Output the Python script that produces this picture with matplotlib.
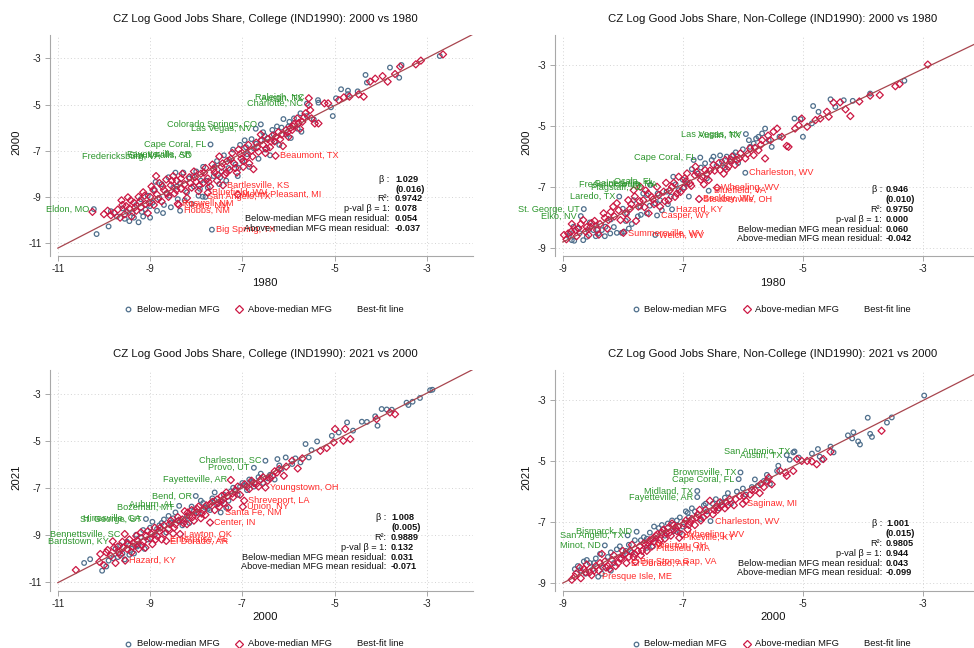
import matplotlib
matplotlib.use("Agg")
import matplotlib.pyplot as plt
from matplotlib.lines import Line2D
import numpy as np

plt.rcParams['font.family'] = ['Liberation Sans', 'DejaVu Sans']

# ---------------- DATA ----------------
titles = ["CZ Log Good Jobs Share, College (IND1990): 2000 vs 1980",
          "CZ Log Good Jobs Share, Non-College (IND1990): 2000 vs 1980",
          "CZ Log Good Jobs Share, College (IND1990): 2021 vs 2000",
          "CZ Log Good Jobs Share, Non-College (IND1990): 2021 vs 2000"]
xlabels = ["1980", "1980", "2000", "2000"]
ylabels = ["2000", "2000", "2021", "2021"]
ticks_college = [-11, -9, -7, -5, -3]
ticks_noncollege = [-9, -7, -5, -3]

beta = ["1.029", "0.946", "1.008", "1.001"]
beta_se = ["(0.016)", "(0.010)", "(0.005)", "(0.015)"]
r2 = ["0.9742", "0.9750", "0.9889", "0.9805"]
pval = ["0.078", "0.000", "0.132", "0.944"]
resid_below = ["0.054", "0.060", "0.031", "0.043"]
resid_above = ["-0.037", "-0.042", "-0.071", "-0.099"]
fit_slope = [1.029, 0.946, 1.008, 1.001]
fit_intercept = [0.10, -0.276, 0.05, 0.0]
fit_xstart = [-11, -9, -11, -9]

legend_labels = ["Below-median MFG", "Above-median MFG", "Best-fit line"]

p1_blue = [(-10.16,-10.61),(-9.90,-10.28),(-10.22,-9.53),(-9.85,-9.62),(-9.72,-9.85),(-9.6,-9.5),(-9.55,-9.95),
 (-9.45,-10.05),(-9.38,-9.7),(-9.3,-9.35),(-9.25,-10.1),(-9.2,-9.1),(-9.15,-9.85),(-9.1,-9.55),(-9.05,-8.95),
 (-9.0,-9.9),(-8.95,-9.25),(-8.9,-8.7),(-8.85,-9.6),(-8.8,-9.05),(-8.75,-8.45),(-8.7,-9.35),(-8.65,-8.85),
 (-8.6,-8.15),(-8.55,-9.45),(-8.5,-8.6),(-8.45,-7.95),(-8.4,-9.1),(-8.35,-8.4),(-8.35,-9.6),(-8.28,-7.95),
 (-8.2,-8.8),(-8.15,-8.2),(-8.1,-9.3),(-8.05,-8.55),(-8.0,-7.9),(-7.95,-8.95),(-7.9,-8.3),(-7.86,-8.99),
 (-7.85,-7.7),(-7.8,-9.0),(-7.75,-8.6),(-7.69,-6.73),(-7.66,-10.42),(-7.62,-8.1),(-7.55,-7.45),(-7.5,-8.45),
 (-7.45,-7.9),(-7.4,-7.2),(-7.35,-8.3),(-7.3,-7.75),(-7.2,-6.95),(-7.15,-7.6),(-7.1,-8.1),(-7.05,-6.75),
 (-7.0,-7.45),(-6.95,-6.55),(-6.9,-7.15),(-6.85,-7.7),(-6.8,-6.5),(-6.75,-6.9),(-6.71,-6.05),(-6.65,-7.35),
 (-6.6,-6.55),(-6.55,-6.2),(-6.5,-6.95),(-6.45,-6.45),(-6.4,-7.2),(-6.35,-6.1),(-6.3,-6.6),(-6.25,-5.95),
 (-6.2,-6.75),(-6.11,-5.63),(-6.05,-6.3),(-6.0,-5.95),(-5.95,-6.45),(-5.88,-5.60),(-5.8,-6.05),(-5.74,-5.38),
 (-5.72,-6.18),(-5.6,-5.5),(-5.6,-4.96),(-5.45,-5.65),(-5.35,-4.92),(-5.36,-4.81),(-5.08,-5.12),(-5.04,-5.50),
 (-4.97,-4.73),(-4.86,-4.34),(-4.71,-4.40),(-4.71,-4.55),(-4.50,-4.43),(-4.33,-3.72),(-4.30,-4.05),
 (-3.80,-3.40),(-3.60,-3.84),(-3.55,-3.29),(-2.72,-2.90),(-6.6,-5.86),
 (-9.5,-9.65),(-9.35,-9.9),(-9.18,-9.65),(-9.0,-9.4),(-8.88,-8.35),(-8.72,-9.7),(-8.58,-8.95),(-8.42,-8.55),
 (-8.25,-9.15),(-8.08,-8.1),(-7.92,-8.65),(-7.78,-8.3),(-7.6,-7.7),(-7.48,-8.15),(-7.28,-7.4),(-7.08,-7.75),
 (-6.92,-6.85),(-6.7,-6.7),(-6.52,-6.35),(-6.32,-6.3),(-6.15,-6.0),(-5.98,-5.75)]
p1_red = [(-10.25,-9.65),(-10.0,-9.75),(-9.92,-9.6),(-9.85,-9.8),(-9.78,-9.7),(-9.7,-9.55),(-9.65,-9.9),
 (-9.6,-9.35),(-9.55,-9.75),(-9.48,-9.02),(-9.45,-9.5),(-9.4,-9.85),(-9.35,-9.25),(-9.3,-9.6),(-9.25,-9.0),
 (-9.2,-9.45),(-9.15,-8.8),(-9.1,-9.3),(-9.05,-9.7),(-9.0,-9.0),(-8.97,-8.55),(-8.92,-9.35),(-8.87,-8.1),
 (-8.85,-8.9),(-8.8,-8.4),(-8.75,-9.2),(-8.7,-8.7),(-8.65,-8.25),(-8.6,-9.0),(-8.55,-8.5),(-8.5,-8.1),
 (-8.47,-8.85),(-8.42,-8.3),(-8.4,-9.3),(-8.38,-9.35),(-8.33,-8.65),(-8.3,-8.0),(-8.25,-8.45),(-8.2,-9.05),
 (-8.15,-8.15),(-8.1,-8.6),(-8.05,-7.9),(-8.0,-8.35),(-7.95,-8.75),(-7.9,-8.0),(-7.85,-8.4),(-7.8,-7.75),
 (-7.75,-8.2),(-7.75,-8.82),(-7.7,-8.55),(-7.65,-7.6),(-7.6,-7.95),(-7.55,-8.3),(-7.5,-7.25),(-7.45,-7.7),
 (-7.42,-8.50),(-7.38,-8.05),(-7.33,-7.45),(-7.28,-7.85),(-7.22,-7.1),(-7.18,-7.55),(-7.12,-7.95),
 (-7.1,-8.9),(-7.08,-6.95),(-7.02,-7.35),(-6.98,-7.7),(-6.95,-6.9),(-6.9,-7.25),(-6.85,-7.55),(-6.8,-7.0),
 (-6.76,-7.8),(-6.7,-6.65),(-6.65,-7.05),(-6.6,-6.3),(-6.55,-6.75),(-6.5,-7.1),(-6.45,-6.5),(-6.4,-6.85),
 (-6.35,-6.35),(-6.3,-6.6),(-6.28,-7.22),(-6.22,-6.2),(-6.18,-6.5),(-6.12,-6.8),(-6.05,-6.1),(-6.0,-6.4),
 (-5.95,-6.0),(-5.92,-6.10),(-5.88,-5.85),(-5.81,-5.60),(-5.75,-6.05),(-5.7,-5.75),(-5.63,-5.38),
 (-5.56,-4.73),(-5.56,-5.02),(-5.53,-5.24),(-5.5,-5.6),(-5.43,-5.82),(-5.35,-5.82),(-5.22,-4.95),
 (-5.14,-4.95),(-4.91,-4.81),(-4.80,-4.69),(-4.68,-4.66),(-4.48,-4.56),(-4.37,-4.66),(-4.23,-4.01),
 (-4.12,-3.88),(-3.96,-3.77),(-3.85,-4.01),(-3.69,-3.68),(-3.58,-3.36),(-3.24,-3.26),(-3.13,-3.10),
 (-2.65,-2.83),
 (-9.62,-9.15),(-9.52,-9.4),(-9.42,-9.15),(-9.33,-9.45),(-9.22,-9.2),(-9.12,-8.95),(-9.02,-9.25),(-8.93,-8.7),
 (-8.83,-9.1),(-8.73,-8.55),(-8.63,-8.85),(-8.53,-8.3),(-8.43,-8.7),(-8.33,-8.2),(-8.23,-8.75),(-8.13,-8.4),
 (-8.03,-8.15),(-7.93,-8.5),(-7.83,-7.95),(-7.73,-8.35),(-7.63,-7.8),(-7.53,-8.05),(-7.43,-7.55),(-7.35,-7.95),
 (-7.25,-7.35),(-7.15,-7.75),(-7.05,-7.15),(-6.97,-7.45),(-6.87,-6.75),(-6.78,-7.25),(-6.68,-6.85),
 (-6.58,-6.55),(-6.48,-6.9),(-6.38,-6.6),(-6.27,-6.4),(-6.15,-6.3),(-6.02,-6.2),(-5.9,-5.95),(-5.78,-5.8),
 (-5.66,-5.55)]

p2_blue = [(-8.88,-8.51),(-8.85,-8.73),(-8.81,-8.75),(-8.66,-8.73),(-8.6,-8.62),(-8.82,-8.29),(-8.7,-7.94),
 (-8.65,-7.71),(-8.49,-8.4),(-8.41,-8.51),(-8.35,-8.4),(-8.29,-8.29),(-8.21,-8.51),(-8.1,-8.49),(-8.06,-7.30),
 (-8.02,-8.49),(-7.98,-8.45),(-7.95,-8.1),(-7.93,-7.85),(-7.82,-7.42),(-7.71,-7.63),(-7.66,-7.2),(-7.6,-7.85),
 (-7.54,-6.92),(-7.46,-7.52),(-7.46,-8.56),(-7.43,-7.92),(-7.38,-7.42),(-7.27,-7.14),(-7.18,-7.72),
 (-7.16,-6.65),(-7.07,-7.09),(-6.93,-6.87),(-6.82,-6.1),(-6.71,-6.02),(-6.63,-6.21),(-6.57,-7.11),
 (-6.49,-5.99),(-6.44,-6.3),(-6.38,-5.95),(-6.27,-5.99),(-6.16,-5.94),(-6.08,-6.2),(-5.96,-6.52),
 (-5.95,-5.25),(-5.88,-5.67),(-5.82,-5.56),(-5.74,-5.34),(-5.68,-5.23),(-5.63,-5.07),(-5.57,-5.45),
 (-5.52,-5.67),(-5.39,-5.34),(-5.14,-4.74),(-5.04,-4.76),(-5.0,-5.34),(-4.85,-4.9),(-4.83,-4.33),
 (-4.74,-4.52),(-4.54,-4.11),(-4.46,-4.36),(-4.32,-4.14),(-4.17,-4.16),(-3.88,-3.92),(-3.31,-3.50),
 (-8.75,-8.35),(-8.55,-8.15),(-8.45,-8.6),(-8.2,-8.05),(-8.0,-7.7),(-7.85,-8.2),(-7.75,-7.95),(-7.6,-7.25),
 (-7.35,-7.75),(-7.2,-7.3),(-7.0,-6.75),(-6.9,-7.3),(-6.75,-6.55),(-6.6,-6.7),(-6.3,-6.35),(-6.0,-5.75),
 (-6.2,-6.15),
 (-8.9,-8.6),(-8.72,-8.5),(-8.58,-8.4),(-8.44,-8.25),(-8.3,-8.6),(-8.15,-8.3),(-7.9,-8.35),(-7.7,-7.9),
 (-7.55,-7.6),(-7.42,-7.2),(-7.25,-7.55),(-7.12,-6.9),(-6.98,-7.0),(-6.85,-6.4),(-6.7,-6.35),(-6.52,-6.1),
 (-6.35,-6.15),(-6.12,-5.85),(-5.9,-5.45),(-5.78,-5.4)]
p2_red = [(-8.98,-8.56),(-8.91,-8.51),(-8.79,-8.4),(-8.74,-8.34),(-8.66,-8.07),(-8.57,-8.56),(-8.52,-8.17),
 (-8.43,-8.4),(-8.32,-7.85),(-8.24,-8.07),(-8.16,-7.63),(-8.1,-7.52),(-8.04,-8.07),(-7.99,-8.49),(-7.96,-7.85),
 (-7.91,-7.42),(-7.82,-7.09),(-7.74,-7.63),(-7.71,-6.98),(-7.66,-7.42),(-7.57,-7.85),(-7.52,-7.31),
 (-7.43,-6.98),(-7.38,-7.63),(-7.32,-7.14),(-7.24,-7.42),(-7.18,-6.98),(-7.13,-7.31),(-7.07,-6.65),
 (-6.99,-7.03),(-6.93,-6.54),(-6.88,-6.87),(-6.79,-6.32),(-6.73,-7.38),(-6.68,-6.65),(-6.63,-6.43),
 (-6.57,-6.76),(-6.49,-6.26),(-6.43,-7.01),(-6.38,-6.43),(-6.29,-6.1),(-6.24,-6.32),(-6.18,-5.99),
 (-6.13,-6.26),(-6.04,-5.88),(-5.96,-6.05),(-5.88,-5.72),(-5.82,-5.94),(-5.74,-5.78),(-5.68,-5.45),
 (-5.63,-6.05),(-5.54,-5.45),(-5.49,-5.17),(-5.43,-5.07),(-5.35,-5.34),(-5.27,-5.64),(-5.24,-5.67),
 (-5.13,-5.07),(-5.07,-4.96),(-5.02,-4.74),(-4.93,-5.01),(-4.79,-4.79),(-4.71,-4.74),(-4.6,-4.52),
 (-4.57,-4.68),(-4.49,-4.22),(-4.38,-4.21),(-4.29,-4.44),(-4.21,-4.66),(-4.06,-4.18),(-3.88,-3.99),
 (-3.72,-3.97),(-3.46,-3.68),(-3.39,-3.61),(-2.92,-2.97),
 (-8.85,-8.2),(-8.6,-8.3),(-8.38,-8.2),(-8.2,-7.8),(-7.88,-7.7),(-7.78,-8.1),(-7.62,-7.1),(-7.48,-7.55),
 (-7.28,-6.85),(-7.1,-7.2),(-6.95,-6.8),(-6.8,-6.6),(-6.65,-6.9),(-6.55,-6.45),(-6.32,-6.55),(-6.1,-6.1),
 (-8.94,-8.7),(-8.86,-8.45),(-8.77,-8.6),(-8.7,-8.2),(-8.62,-8.45),(-8.54,-8.3),(-8.47,-8.1),(-8.4,-8.55),
 (-8.3,-8.0),(-8.26,-8.35),(-8.14,-7.95),(-8.07,-7.75),(-7.93,-8.05),(-7.86,-7.55),(-7.8,-7.3),(-7.72,-7.45),
 (-7.64,-7.65),(-7.58,-7.2),(-7.5,-7.4),(-7.4,-7.25),(-7.3,-7.45),(-7.22,-7.1),(-7.15,-6.85),(-7.04,-7.15),
 (-6.97,-6.7),(-6.86,-6.95),(-6.77,-6.5),(-6.7,-6.75),(-6.6,-6.55),(-6.47,-6.45),(-6.4,-6.2),(-6.27,-6.4),
 (-6.2,-6.1),(-6.06,-6.05),(-5.92,-5.9),(-5.8,-5.7),(-5.7,-5.6),(-5.58,-5.3)]

p3_blue = [(-10.43,-10.2),(-10.3,-10.04),(-10.04,-10.53),(-9.95,-10.35),(-9.8,-10.0),(-9.75,-9.6),(-9.6,-9.8),
 (-9.55,-10.05),(-9.5,-9.3),(-9.4,-9.6),(-9.3,-9.0),(-9.25,-9.45),(-9.15,-8.8),(-9.09,-8.33),(-9.05,-9.2),
 (-8.95,-8.45),(-8.9,-9.0),(-8.8,-8.6),(-8.7,-8.35),(-8.65,-8.9),(-8.55,-8.5),(-8.45,-8.05),(-8.37,-7.77),
 (-8.3,-8.6),(-8.2,-8.2),(-8.1,-7.8),(-8.01,-7.35),(-7.95,-8.1),(-7.85,-7.65),(-7.75,-7.9),(-7.65,-7.45),
 (-7.55,-7.7),(-7.47,-8.05),(-7.4,-7.3),(-7.3,-7.55),(-7.2,-7.0),(-7.1,-7.3),(-7.0,-6.8),(-6.9,-7.1),
 (-6.85,-6.65),(-6.75,-6.15),(-6.75,-6.95),(-6.65,-6.55),(-6.55,-6.8),(-6.5,-5.85),(-6.4,-6.45),(-6.3,-6.65),
 (-6.24,-5.78),(-6.15,-6.2),(-6.06,-5.71),(-5.92,-5.99),(-5.74,-5.92),(-5.63,-5.14),(-5.56,-5.71),
 (-5.38,-5.03),(-5.06,-4.79),(-4.91,-4.65),(-4.73,-4.22),(-4.6,-4.57),(-4.41,-4.19),(-4.3,-4.2),
 (-4.12,-3.96),(-4.07,-4.36),(-3.98,-3.65),(-3.87,-3.67),(-3.76,-3.68),(-3.44,-3.38),(-3.4,-3.48),
 (-3.31,-3.34),(-3.15,-3.18),(-2.93,-2.85),(-2.88,-2.83),
 (-9.65,-9.45),(-9.35,-9.8),(-9.2,-9.1),(-8.85,-8.75),(-8.6,-8.2),(-8.4,-8.4),(-8.15,-8.5),(-7.9,-7.55),
 (-7.7,-7.95),(-7.6,-7.2),(-7.35,-7.85),(-7.15,-7.1),(-6.95,-6.9),(-6.6,-6.4),
 (-9.9,-10.1),(-9.7,-9.95),(-9.45,-9.85),(-9.28,-9.5),(-9.12,-9.6),(-9.0,-8.7),(-8.75,-8.5),(-8.5,-8.3),
 (-8.25,-8.35),(-8.05,-8.0),(-7.8,-7.85),(-7.6,-7.55),(-7.45,-7.6),(-7.25,-7.15),(-7.05,-6.95),(-6.8,-6.75),
 (-6.45,-6.6),(-6.2,-6.05),(-5.85,-5.75),(-5.5,-5.4)]
p3_red = [(-10.61,-10.5),(-10.1,-10.15),(-10.08,-9.82),(-10.0,-10.3),(-9.92,-9.65),(-9.85,-9.9),(-9.81,-9.28),
 (-9.75,-10.2),(-9.7,-9.5),(-9.65,-9.85),(-9.6,-9.3),(-9.55,-8.97),(-9.54,-10.1),(-9.5,-9.6),(-9.45,-9.2),
 (-9.4,-9.75),(-9.35,-9.35),(-9.3,-9.05),(-9.25,-9.6),(-9.2,-8.9),(-9.15,-9.3),(-9.1,-9.55),(-9.05,-8.85),
 (-9.0,-9.15),(-8.95,-9.4),(-8.9,-8.7),(-8.85,-9.05),(-8.8,-8.85),(-8.75,-9.2),(-8.7,-8.6),(-8.65,-9.26),
 (-8.6,-8.75),(-8.55,-8.4),(-8.5,-8.95),(-8.45,-8.55),(-8.4,-8.25),(-8.35,-8.97),(-8.3,-8.35),(-8.25,-8.0),
 (-8.2,-8.55),(-8.15,-8.2),(-8.1,-7.95),(-8.05,-8.4),(-8.0,-8.05),(-7.95,-7.8),(-7.9,-8.3),(-7.85,-7.95),
 (-7.8,-8.15),(-7.7,-8.48),(-7.7,-7.7),(-7.6,-7.95),(-7.55,-7.5),(-7.5,-7.8),(-7.45,-7.35),(-7.4,-7.65),
 (-7.35,-7.2),(-7.3,-7.85),(-7.25,-6.67),(-7.2,-7.4),(-7.15,-7.1),(-7.05,-7.3),(-6.99,-7.81),(-6.96,-7.55),
 (-6.95,-6.85),(-6.85,-7.05),(-6.75,-6.8),(-6.65,-6.95),(-6.6,-6.65),(-6.5,-6.99),(-6.45,-6.7),(-6.35,-6.5),
 (-6.25,-6.35),(-6.1,-6.49),(-6.05,-6.1),(-5.92,-5.85),(-5.8,-6.18),(-5.7,-5.75),(-5.31,-5.43),
 (-5.17,-5.31),(-5.02,-5.07),(-4.99,-4.5),(-4.81,-5.0),(-4.77,-4.5),(-4.66,-4.93),(-4.09,-4.08),
 (-3.8,-3.8),(-3.69,-3.87),
 (-9.95,-9.75),(-9.78,-9.55),(-9.68,-9.75),(-9.58,-9.55),(-9.48,-9.4),(-9.38,-9.5),(-9.28,-9.25),(-9.18,-9.45),
 (-9.08,-9.05),(-8.98,-8.95),(-8.88,-9.2),(-8.78,-8.7),(-8.68,-8.95),(-8.58,-8.55),(-8.48,-8.7),(-8.38,-8.4),
 (-8.28,-8.5),(-8.18,-8.05),(-8.08,-8.25),(-7.98,-7.9),(-7.88,-8.1),(-7.78,-7.75),(-7.65,-7.6),(-7.52,-7.65),
 (-7.42,-7.5),(-7.32,-7.35),(-7.22,-7.25),(-7.1,-6.95),(-6.9,-6.95),(-6.8,-6.7),(-6.7,-6.85),(-6.55,-6.55),
 (-6.4,-6.6),(-6.3,-6.3),(-6.2,-6.2)]

p4_blue = [(-8.75,-8.45),(-8.7,-8.6),(-8.62,-8.7),(-8.55,-8.35),(-8.5,-8.55),(-8.45,-8.2),(-8.41,-8.8),
 (-8.38,-8.05),(-8.33,-8.5),(-8.3,-7.77),(-8.25,-8.15),(-8.15,-8.35),(-8.1,-7.9),(-8.0,-8.1),(-7.92,-7.44),
 (-7.9,-7.75),(-7.85,-8.0),(-7.77,-7.32),(-7.7,-7.6),(-7.6,-7.85),(-7.55,-7.35),(-7.45,-7.55),(-7.4,-7.2),
 (-7.3,-7.45),(-7.25,-7.05),(-7.15,-7.3),(-7.1,-6.95),(-7.0,-7.15),(-6.9,-6.85),(-6.85,-6.55),(-6.76,-5.98),
 (-6.76,-6.18),(-6.7,-6.9),(-6.6,-6.65),(-6.54,-6.97),(-6.5,-6.4),(-6.4,-6.55),(-6.3,-6.2),(-6.2,-6.4),
 (-6.1,-6.0),(-6.07,-5.59),(-6.04,-5.37),(-5.95,-6.1),(-5.85,-5.85),(-5.75,-5.8),(-5.65,-5.65),(-5.55,-5.75),
 (-5.43,-5.32),(-5.41,-5.15),(-5.27,-4.8),(-5.22,-4.95),(-5.16,-4.71),(-5.14,-4.68),(-5.07,-4.88),
 (-4.85,-4.75),(-4.75,-4.6),(-4.72,-4.85),(-4.68,-4.95),(-4.54,-4.52),(-4.49,-4.71),(-4.25,-4.15),
 (-4.18,-4.25),(-4.16,-4.05),(-4.08,-4.35),(-4.05,-4.45),(-3.92,-3.57),(-3.88,-4.1),(-3.85,-4.2),
 (-3.6,-3.73),(-3.52,-3.56),(-2.98,-2.84),
 (-8.6,-8.25),(-8.2,-8.6),(-7.95,-7.95),(-7.65,-7.5),(-7.5,-7.8),(-7.35,-7.1),(-7.05,-7.35),(-6.95,-6.65),
 (-6.65,-6.45),(-6.35,-6.35),
 (-8.8,-8.55),(-8.65,-8.3),(-8.48,-8.35),(-8.35,-8.7),(-8.2,-8.0),(-8.05,-7.8),(-7.8,-7.6),(-7.6,-7.55),
 (-7.48,-7.15),(-7.33,-7.25),(-7.18,-6.95),(-7.05,-6.85),(-6.92,-6.7),(-6.8,-6.65),(-6.62,-6.4),(-6.45,-6.25),
 (-6.25,-6.05),(-6.0,-5.9),(-5.8,-5.6),(-5.6,-5.45)]
p4_red = [(-8.85,-8.9),(-8.78,-8.7),(-8.7,-8.85),(-8.65,-8.55),(-8.6,-8.4),(-8.52,-8.75),(-8.45,-8.45),
 (-8.4,-8.6),(-8.35,-8.05),(-8.3,-8.3),(-8.22,-8.55),(-8.15,-8.1),(-8.08,-8.35),(-8.0,-7.95),(-7.94,-8.35),
 (-7.9,-8.15),(-7.85,-7.75),(-7.79,-8.31),(-7.75,-7.95),(-7.7,-8.1),(-7.65,-7.7),(-7.6,-7.95),(-7.55,-7.6),
 (-7.52,-7.81),(-7.45,-7.45),(-7.4,-7.7),(-7.35,-7.35),(-7.3,-7.55),(-7.25,-7.2),(-7.2,-7.45),(-7.15,-7.1),
 (-7.1,-7.3),(-7.06,-7.52),(-7.01,-7.41),(-6.98,-7.05),(-6.92,-7.25),(-6.85,-6.9),(-6.8,-7.1),(-6.75,-6.75),
 (-6.7,-6.95),(-6.62,-6.6),(-6.55,-6.3),(-6.5,-6.75),(-6.45,-6.5),(-6.38,-6.35),(-6.3,-6.55),(-6.22,-6.25),
 (-6.15,-6.45),(-6.0,-6.4),(-6.05,-6.15),(-5.95,-6.3),(-5.88,-6.1),(-5.8,-5.95),(-5.72,-6.05),(-5.65,-5.85),
 (-5.57,-5.54),(-5.52,-5.76),(-5.38,-5.32),(-5.29,-5.37),(-5.27,-5.48),(-5.16,-5.32),(-5.1,-4.93),
 (-5.02,-4.99),(-4.93,-4.99),(-4.85,-5.01),(-4.77,-5.1),(-4.66,-4.93),(-4.54,-4.69),(-3.69,-4.0),
 (-8.55,-8.65),(-8.25,-8.45),(-8.05,-8.2),(-7.8,-8.05),(-7.62,-7.75),(-7.48,-7.65),(-7.28,-7.35),
 (-7.12,-7.2),(-6.88,-7.0),(-6.66,-6.85),(-6.42,-6.6),(-6.25,-6.45),
 (-8.8,-8.8),(-8.72,-8.5),(-8.62,-8.65),(-8.48,-8.6),(-8.38,-8.35),(-8.28,-8.5),(-8.18,-8.25),(-8.12,-8.45),
 (-8.02,-8.2),(-7.96,-8.05),(-7.88,-7.95),(-7.82,-8.15),(-7.72,-7.8),(-7.68,-7.95),(-7.58,-7.7),(-7.5,-7.55),
 (-7.42,-7.4),(-7.38,-7.6),(-7.32,-7.25),(-7.22,-7.35),(-7.18,-7.05),(-7.08,-7.15),(-6.95,-6.95),(-6.9,-7.1),
 (-6.78,-6.85),(-6.72,-6.6),(-6.6,-6.75),(-6.48,-6.6),(-6.35,-6.45),(-6.28,-6.35),(-6.12,-6.25),(-5.98,-6.15),
 (-5.85,-5.95),(-5.7,-5.75),(-5.6,-5.65)]

# labels: (text, x, y, kind) kind 'pos' = green (left of point), 'neg' = red (right of point)
p1_labels = [("Raleigh, NC",-5.56,-4.70,"pos"),("Austin, TX",-5.58,-4.72,"pos"),("Charlotte, NC",-5.6,-4.96,"pos"),
 ("Colorado Springs, CO",-6.6,-5.86,"pos"),("Las Vegas, NV",-6.71,-6.05,"pos"),("Cape Coral, FL",-7.69,-6.73,"pos"),
 ("Fredericksburg, VA",-8.7,-7.27,"pos"),("Fayetteville, AR",-8.02,-7.18,"pos"),("Sioux Falls, SD",-8.0,-7.2,"pos"),
 ("Eldon, MO",-10.22,-9.53,"pos"),
 ("Beaumont, TX",-6.28,-7.22,"neg"),("Bartlesville, KS",-7.42,-8.50,"neg"),("Bluefield, WV",-7.75,-8.82,"neg"),
 ("Mount Pleasant, MI",-7.1,-8.9,"neg"),("San Angelo, TX",-7.86,-8.99,"neg"),("Roswell, NM",-8.4,-9.3,"neg"),
 ("Clovis, NM",-8.36,-9.38,"neg"),("Hobbs, NM",-8.35,-9.6,"neg"),("Big Spring, TX",-7.66,-10.42,"neg")]
p2_labels = [("Las Vegas, NV",-5.95,-5.25,"pos"),("Austin, TX",-5.97,-5.3,"pos"),("Cape Coral, FL",-6.71,-6.02,"pos"),
 ("Fredericksburg, VA",-7.36,-6.9,"pos"),("Gainesville, FL",-7.4,-6.86,"pos"),("Ocala, FL",-7.42,-6.8,"pos"),
 ("Flagstaff, AZ",-7.6,-7.0,"pos"),("Laredo, TX",-8.06,-7.30,"pos"),("St. George, UT",-8.65,-7.71,"pos"),
 ("Elko, NV",-8.7,-7.94,"pos"),
 ("Charleston, WV",-5.96,-6.52,"neg"),("Wheeling, WV",-6.43,-7.01,"neg"),("Bluefield, VA",-6.55,-7.1,"neg"),
 ("Beckley, WV",-6.73,-7.38,"neg"),("Steubenville, OH",-6.73,-7.39,"neg"),("Hazard, KY",-7.18,-7.72,"neg"),
 ("Casper, WY",-7.43,-7.92,"neg"),("Summersville, WV",-7.99,-8.49,"neg"),("Welch, WV",-7.46,-8.56,"neg")]
p3_labels = [("Charleston, SC",-6.5,-5.85,"pos"),("Provo, UT",-6.75,-6.15,"pos"),("Fayetteville, AR",-7.25,-6.67,"pos"),
 ("Bend, OR",-8.01,-7.35,"pos"),("Auburn, AL",-8.37,-7.7,"pos"),("Bozeman, MT",-8.4,-7.82,"pos"),
 ("St. George, UT",-9.09,-8.33,"pos"),("Hinesville, GA",-9.1,-8.3,"pos"),("Bennettsville, SC",-9.55,-8.97,"pos"),
 ("Bardstown, KY",-9.81,-9.28,"pos"),
 ("Youngstown, OH",-6.5,-6.99,"neg"),("Shreveport, LA",-6.96,-7.55,"neg"),("Union, NY",-6.99,-7.81,"neg"),
 ("Santa Fe, NM",-7.47,-8.05,"neg"),("Center, IN",-7.7,-8.48,"neg"),("Lawton, OK",-8.35,-8.97,"neg"),
 ("Enterprise, AL",-8.65,-9.22,"neg"),("El Dorado, AR",-8.65,-9.3,"neg"),("Hazard, KY",-9.54,-10.1,"neg")]
p4_labels = [("San Antonio, TX",-5.14,-4.68,"pos"),("Austin, TX",-5.27,-4.8,"pos"),("Brownsville, TX",-6.04,-5.37,"pos"),
 ("Cape Coral, FL",-6.07,-5.59,"pos"),("Midland, TX",-6.76,-5.98,"pos"),("Fayetteville, AR",-6.76,-6.18,"pos"),
 ("Bismarck, ND",-7.77,-7.32,"pos"),("San Angelo, TX",-7.92,-7.44,"pos"),("Minot, ND",-8.3,-7.77,"pos"),
 ("Saginaw, MI",-6.0,-6.4,"neg"),("Charleston, WV",-6.54,-6.97,"neg"),("Wheeling, WV",-7.01,-7.41,"neg"),
 ("Pikeville, KY",-7.06,-7.52,"neg"),("Weirton, OH",-7.52,-7.77,"neg"),("Pittsfield, MA",-7.52,-7.86,"neg"),
 ("Big Stone Gap, VA",-7.79,-8.31,"neg"),("El Dorado, AR",-7.94,-8.35,"neg"),("Presque Isle, ME",-8.41,-8.8,"neg")]

blue_sets = [p1_blue, p2_blue, p3_blue, p4_blue]
red_sets = [p1_red, p2_red, p3_red, p4_red]
label_sets = [p1_labels, p2_labels, p3_labels, p4_labels]

# ---------------- STYLE / LAYOUT ----------------
W, H = 974, 648
fig = plt.figure(figsize=(W/100, H/100), dpi=100)

BLUE = '#4f6f8c'
RED = '#cc1843'
GREEN_T = '#2c962c'
RED_T = '#ff2a2a'
LINE = '#a8454e'
SPINE = '#a8a8a8'

def fx(px): return px / W
def fy(py): return 1 - py / H

axes_px = [(50, 35, 473, 256), (555, 35, 974, 256), (50, 370, 473, 590.7), (555, 370, 974, 590.7)]
xlims = [(-11.17, -2.0), (-9.13, -2.15), (-11.17, -2.0), (-9.13, -2.15)]
ylims = [(-11.56, -1.99), (-9.25, -2.0), (-11.38, -1.99), (-9.26, -2.0)]
title_px = [(265, 19), (773, 19), (265, 354), (773, 354)]
xlab_px = [(265, 283), (773, 283), (265, 617), (773, 617)]
ylab_px = [(16, 142), (526, 142), (16, 477), (526, 477)]
stats_px = [(389.5, 395, 179.5), (882, 886, 190), (386.5, 391, 518), (882, 886, 524)]
legend_y = [309, 309, 644, 644]
legend_x = [(128, 137, 239, 248, 357), (636, 644, 747, 755, 864)]

for i in range(4):
    l, t, r, b = axes_px[i]
    ax = fig.add_axes([fx(l), fy(b), (r - l) / W, (b - t) / H])
    ticks = ticks_college if i in (0, 2) else ticks_noncollege
    ax.set_xlim(*xlims[i]); ax.set_ylim(*ylims[i])
    ax.set_xticks(ticks); ax.set_yticks(ticks)
    ax.set_xticklabels([str(v) for v in ticks]); ax.set_yticklabels([str(v) for v in ticks])
    for s in ('top', 'right'):
        ax.spines[s].set_visible(False)
    for s in ('left', 'bottom'):
        ax.spines[s].set_color(SPINE); ax.spines[s].set_linewidth(0.8)
    ax.spines['bottom'].set_bounds(ticks[0], xlims[i][1])
    ax.tick_params(direction='out', length=3.5, width=0.7, color=SPINE, labelsize=7,
                   labelcolor='#222222', pad=2.5)
    ax.grid(True, linestyle=(0, (1, 2.5)), color='#d4d4d4', linewidth=0.7)
    ax.set_axisbelow(True)
    ax.patch.set_alpha(0)

    bx = [p[0] for p in blue_sets[i]]; by = [p[1] for p in blue_sets[i]]
    rx = [p[0] for p in red_sets[i]]; ry = [p[1] for p in red_sets[i]]
    ax.scatter(bx, by, s=11, marker='o', facecolors='none', edgecolors=BLUE, linewidths=0.9, zorder=3)
    ax.scatter(rx, ry, s=13, marker='D', facecolors='none', edgecolors=RED, linewidths=0.9, zorder=3)
    xs = np.array([fit_xstart[i], xlims[i][1]])
    ax.plot(xs, fit_intercept[i] + fit_slope[i] * xs, color=LINE, linewidth=0.9, zorder=4)

    for (txt, x, y, kind) in label_sets[i]:
        if kind == 'pos':
            ax.annotate(txt, (x, y), xytext=(-3, 0), textcoords='offset points', ha='right', va='center',
                        fontsize=6.6, color=GREEN_T, zorder=5)
        else:
            ax.annotate(txt, (x, y), xytext=(3, 0), textcoords='offset points', ha='left', va='center',
                        fontsize=6.6, color=RED_T, zorder=5)

    tx, ty = title_px[i]
    fig.text(fx(tx), fy(ty), titles[i], ha='center', va='center', fontsize=8.2, color='#111111')
    lx, ly = xlab_px[i]
    fig.text(fx(lx), fy(ly), xlabels[i], ha='center', va='center', fontsize=8.2, color='#111111')
    yx, yy = ylab_px[i]
    fig.text(fx(yx), fy(yy), ylabels[i], ha='center', va='center', rotation=90, fontsize=8.2, color='#111111')

    # stats block
    rx0, nx0, y0 = stats_px[i]
    dy = 9.75
    rows = [("\u03b2 :", beta[i]), ("", beta_se[i]), ("R\u00b2:", r2[i]), ("p-val \u03b2 = 1:", pval[i]),
            ("Below-median MFG mean residual:", resid_below[i]), ("Above-median MFG mean residual:", resid_above[i])]
    for k, (lab, val) in enumerate(rows):
        yy_ = y0 + k * dy
        if lab:
            fig.text(fx(rx0), fy(yy_), lab, ha='right', va='center', fontsize=6.6, color='#111111')
        fig.text(fx(nx0), fy(yy_), val, ha='left', va='center', fontsize=6.6, color='#111111', fontweight='bold')

    # legend
    c, ct, d, dt, bf = legend_x[i % 2]
    ly_ = legend_y[i]
    fig.add_artist(Line2D([fx(c)], [fy(ly_)], marker='o', markersize=3.3, markerfacecolor='none',
                          markeredgecolor=BLUE, markeredgewidth=0.9, linestyle='none'))
    fig.add_artist(Line2D([fx(d)], [fy(ly_)], marker='D', markersize=3.6, markerfacecolor='none',
                          markeredgecolor=RED, markeredgewidth=0.9, linestyle='none'))
    fig.text(fx(ct), fy(ly_), legend_labels[0], ha='left', va='center', fontsize=6.75, color='#111111')
    fig.text(fx(dt), fy(ly_), legend_labels[1], ha='left', va='center', fontsize=6.75, color='#111111')
    fig.text(fx(bf), fy(ly_), legend_labels[2], ha='left', va='center', fontsize=6.75, color='#111111')

fig.savefig('out.png', dpi=100, facecolor='white')
